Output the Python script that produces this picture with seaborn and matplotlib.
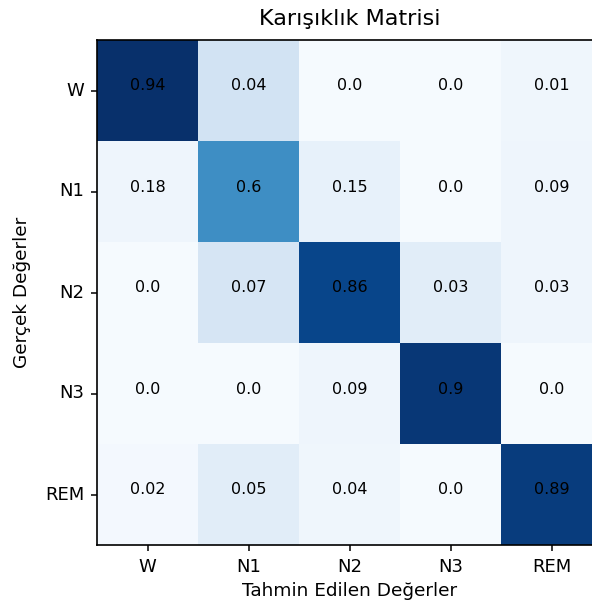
import numpy as np
import pandas as pd
import matplotlib
matplotlib.use("Agg")
import matplotlib.pyplot as plt
import seaborn as sns

classes = ["W", "N1", "N2", "N3", "REM"]

# row-normalised values shown as text
row_W = [0.94, 0.04, 0.0, 0.0, 0.01]
row_N1 = [0.18, 0.6, 0.15, 0.0, 0.09]
row_N2 = [0.0, 0.07, 0.86, 0.03, 0.03]
row_N3 = [0.0, 0.0, 0.09, 0.9, 0.0]
row_REM = [0.02, 0.05, 0.04, 0.0, 0.89]

# colour intensity (estimated relative counts, read from shading)
shade_W = [1.0, 0.19, 0.01, 0.01, 0.04]
shade_N1 = [0.05, 0.64, 0.08, 0.01, 0.05]
shade_N2 = [0.01, 0.17, 0.92, 0.11, 0.05]
shade_N3 = [0.01, 0.01, 0.05, 0.97, 0.01]
shade_REM = [0.02, 0.11, 0.04, 0.01, 0.95]

values = np.array([row_W, row_N1, row_N2, row_N3, row_REM])
shades = pd.DataFrame([shade_W, shade_N1, shade_N2, shade_N3, shade_REM],
                      index=classes, columns=classes)
labels = np.array([[str(v) for v in r] for r in values])

fig = plt.figure(figsize=(5.92, 6.06), dpi=100)
ax = fig.add_axes([97 / 592, 61 / 606, 505 / 592, 505 / 606])

sns.heatmap(shades, ax=ax, cmap="Blues", vmin=0, vmax=1, cbar=False,
            annot=labels, fmt="", square=False,
            annot_kws={"va": "baseline", "color": "black", "fontsize": 11.5})

for s in ax.spines.values():
    s.set_visible(True)
    s.set_color("black")
    s.set_linewidth(1.2)

ax.tick_params(axis="both", length=4.5, width=1.1, pad=4.5, labelsize=13)
ax.set_yticklabels(classes, rotation=0)
ax.set_xticklabels(classes, rotation=0)
ax.set_title("Karışıklık Matrisi", fontsize=16, pad=11)
ax.set_xlabel("Tahmin Edilen Değerler", fontsize=13.3, labelpad=5)
ax.set_ylabel("Gerçek Değerler", fontsize=13.3, labelpad=10)

fig.savefig("out.png", dpi=100)
